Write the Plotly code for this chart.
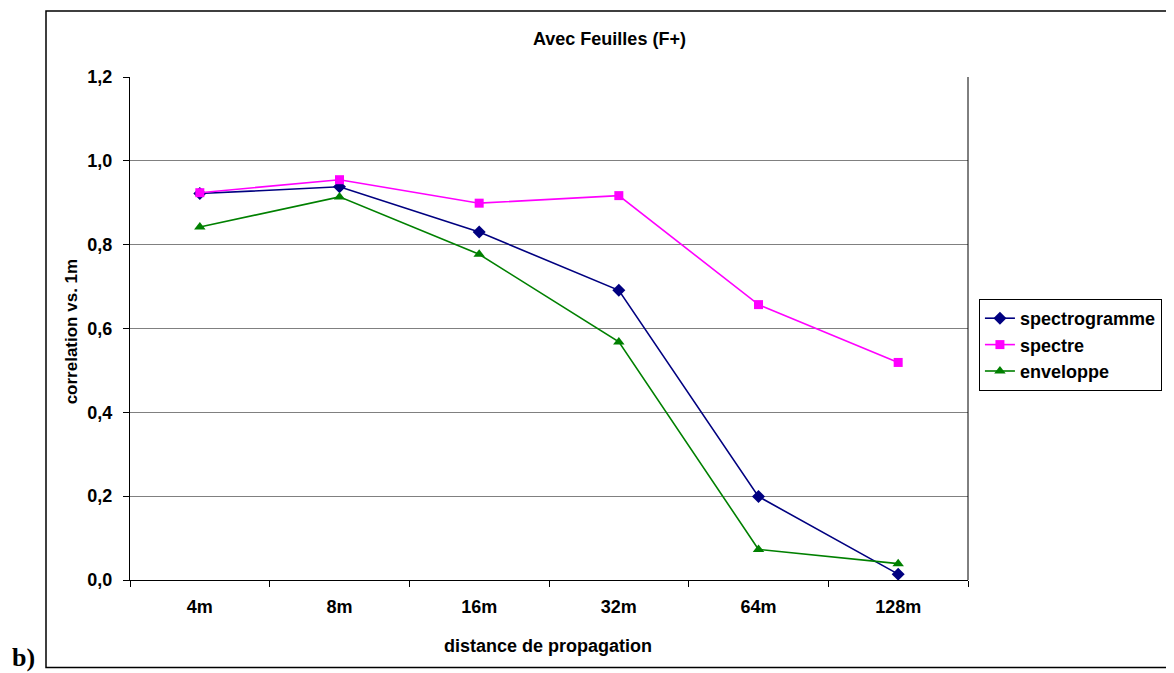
import plotly.graph_objects as go

categories = ["4m", "8m", "16m", "32m", "64m", "128m"]
spectrogramme = [0.922, 0.938, 0.830, 0.691, 0.199, 0.014]
spectre = [0.924, 0.955, 0.899, 0.917, 0.657, 0.519]
enveloppe = [0.842, 0.914, 0.777, 0.568, 0.073, 0.039]
y_ticks = [0.0, 0.2, 0.4, 0.6, 0.8, 1.0, 1.2]

FONT = "Liberation Sans, Arial"

fig = go.Figure()
fig.add_trace(go.Scatter(x=categories, y=spectrogramme, name="spectrogramme", mode="lines+markers",
                         line=dict(color="#000080", width=1.6),
                         marker=dict(symbol="diamond", size=10, color="#000080")))
fig.add_trace(go.Scatter(x=categories, y=spectre, name="spectre", mode="lines+markers",
                         line=dict(color="#FF00FF", width=1.6),
                         marker=dict(symbol="square", size=9, color="#FF00FF")))
fig.add_trace(go.Scatter(x=categories, y=enveloppe, name="enveloppe", mode="lines+markers",
                         line=dict(color="#008000", width=1.6),
                         marker=dict(symbol="triangle-up", size=10, color="#008000")))

# The page has an 8px body margin; sizes/margins are chosen so the plot area
# lands at x 130..973, y 77..580 in the 1174x673 window.
fig.update_layout(
    width=1166, height=665,
    margin=dict(l=122, r=201, t=69, b=93),
    paper_bgcolor="white", plot_bgcolor="white",
    separators=", ",
    font=dict(family=FONT, size=18, color="black"),
    showlegend=True,
    legend=dict(x=(984 - 130) / 843, xanchor="left", y=(580 - 299) / 503, yanchor="top",
                bordercolor="black", borderwidth=1, bgcolor="white",
                font=dict(size=18, family=FONT, weight="bold"),
                tracegroupgap=0, itemwidth=30),
    xaxis=dict(type="category", range=[-0.5, 5.5], showgrid=False,
               showline=True, linecolor="black", linewidth=1,
               ticks="outside", ticklen=6, tickcolor="black", tickson="boundaries",
               ticklabelstandoff=10, zeroline=False,
               tickfont=dict(family=FONT, size=18, weight="bold")),
    yaxis=dict(range=[0, 1.2], tickvals=y_ticks, tickformat=".1f",
               showgrid=True, gridcolor="#808080", gridwidth=1,
               showline=True, linecolor="black", linewidth=1,
               ticks="outside", ticklen=6, tickcolor="black",
               ticklabelstandoff=7, zeroline=False,
               tickfont=dict(family=FONT, size=18, weight="bold")),
)

# plot area right border
fig.add_shape(type="line", xref="paper", yref="paper", x0=1, x1=1, y0=0, y1=1,
              line=dict(color="black", width=1))
# outer chart frame
fig.add_shape(type="rect", xref="paper", yref="paper",
              x0=(45.5 - 130) / 843, x1=(1185 - 130) / 843,
              y0=(580 - 667.5) / 503, y1=(580 - 11) / 503,
              line=dict(color="black", width=1.5), layer="below")

fig.add_annotation(text="<b>Avec Feuilles (F+)</b>", xref="paper", yref="paper",
                   x=(612 - 130) / 843, y=(580 - 39) / 503, xanchor="center", yanchor="middle",
                   showarrow=False, font=dict(size=18, family=FONT))
fig.add_annotation(text="<b>distance de propagation</b>", xref="paper", yref="paper",
                   x=(550 - 130) / 843, y=(580 - 646) / 503, xanchor="center", yanchor="middle",
                   showarrow=False, font=dict(size=18, family=FONT))
fig.add_annotation(text="<b>correlation vs. 1m</b>", xref="paper", yref="paper",
                   x=(71 - 130) / 843, y=(580 - 331) / 503, xanchor="center", yanchor="middle",
                   showarrow=False, textangle=-90, font=dict(size=17, family=FONT))
fig.add_annotation(text="<b>b)</b>", xref="paper", yref="paper",
                   x=(9 - 130) / 843, xanchor="left", y=(580 - 657) / 503, yanchor="middle",
                   showarrow=False,
                   font=dict(size=26, family="Liberation Serif, Times New Roman"))

fig.write_html("out.html")
